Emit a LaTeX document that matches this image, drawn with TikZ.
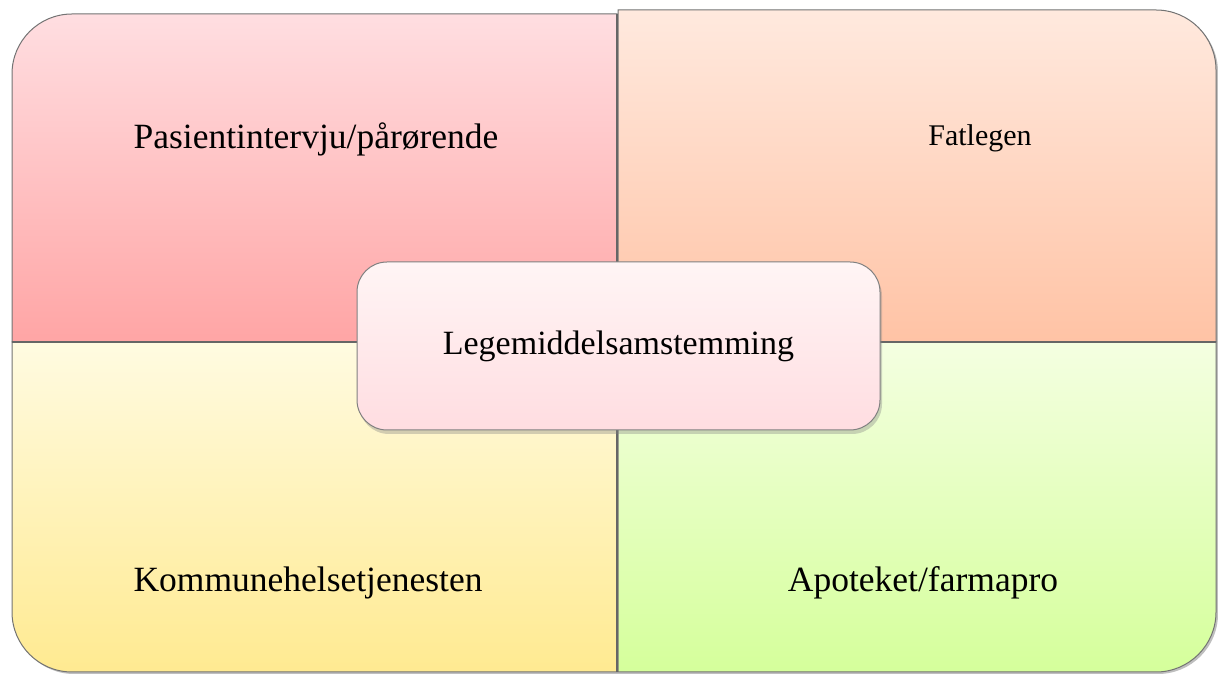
\documentclass[tikz,border=0pt]{standalone}
\usepackage{fontspec}
\setmainfont{Liberation Serif}
\usetikzlibrary{shadows}
\begin{document}
\begin{tikzpicture}[x=1pt,y=1pt,
  quad/.style={draw=black!55,line width=1pt},
  lbl/.style={font=\fontsize{35.5}{40}\selectfont,text=black},
  midlbl/.style={font=\fontsize{34}{38}\selectfont,text=black},
  smalllbl/.style={font=\fontsize{30}{34}\selectfont,text=black}]
\useasboundingbox (0,0) rectangle (1218,674);
% outer shadow
\fill[black,opacity=0.25] (14,330) -- (14,598) arc[start angle=180,end angle=90,radius=60pt] -- (1158,662) arc[start angle=90,end angle=0,radius=60pt] -- (1218,60) arc[start angle=0,end angle=-90,radius=60pt] -- (74,0) arc[start angle=270,end angle=180,radius=60pt] -- cycle;
% top left
\shade[top color={rgb,255:red,255;green,222;blue,225},bottom color={rgb,255:red,255;green,165;blue,165}]
  (12,332) -- (12,600) arc[start angle=180,end angle=90,radius=60pt] -- (617,660) -- (617,332) -- cycle;
\draw[quad] (617,332) -- (12,332) -- (12,600) arc[start angle=180,end angle=90,radius=60pt] -- (617,660) -- (617,332);
% top right
\shade[top color={rgb,255:red,255;green,233;blue,222},bottom color={rgb,255:red,255;green,195;blue,165}]
  (618,332) -- (618,664) -- (1156,664) arc[start angle=90,end angle=0,radius=60pt] -- (1216,332) -- cycle;
\draw[quad] (618,332) -- (618,664) -- (1156,664) arc[start angle=90,end angle=0,radius=60pt] -- (1216,332) -- cycle;
% bottom left
\shade[top color={rgb,255:red,255;green,251;blue,225},bottom color={rgb,255:red,255;green,234;blue,145}]
  (12,332) -- (617,332) -- (617,2) -- (72,2) arc[start angle=270,end angle=180,radius=60pt] -- cycle;
\draw[quad] (12,332) -- (617,332) -- (617,2) -- (72,2) arc[start angle=270,end angle=180,radius=60pt] -- cycle;
% bottom right
\shade[top color={rgb,255:red,244;green,255;blue,225},bottom color={rgb,255:red,213;green,255;blue,155}]
  (618,332) -- (1216,332) -- (1216,62) arc[start angle=0,end angle=-90,radius=60pt] -- (618,2) -- cycle;
\draw[quad] (618,332) -- (1216,332) -- (1216,62) arc[start angle=0,end angle=-90,radius=60pt] -- (618,2) -- cycle;
% dividers
\draw[black!60,line width=1.2pt] (617,2) -- (617,660);
\draw[black!60,line width=1.2pt] (12,332) -- (1216,332);
% labels
\node[lbl,anchor=base] (tl) at (316,525) {Pasientintervju/pårørende};
\node[smalllbl,anchor=base] (tr) at (980,528) {Fatlegen};
\node[lbl,anchor=base] (bl) at (308,82) {Kommunehelsetjenesten};
\node[lbl,anchor=base] (br) at (923,82) {Apoteket/farmapro};
% center
\node[midlbl,draw=black!50,line width=1pt,rounded corners=30pt,minimum width=523pt,minimum height=168pt,
  top color={rgb,255:red,255;green,245;blue,245},bottom color={rgb,255:red,255;green,221;blue,225},
  drop shadow={shadow xshift=2pt,shadow yshift=-4pt,opacity=0.35}] (c) at (618.5,328) {Legemiddelsamstemming};
\end{tikzpicture}
\end{document}
